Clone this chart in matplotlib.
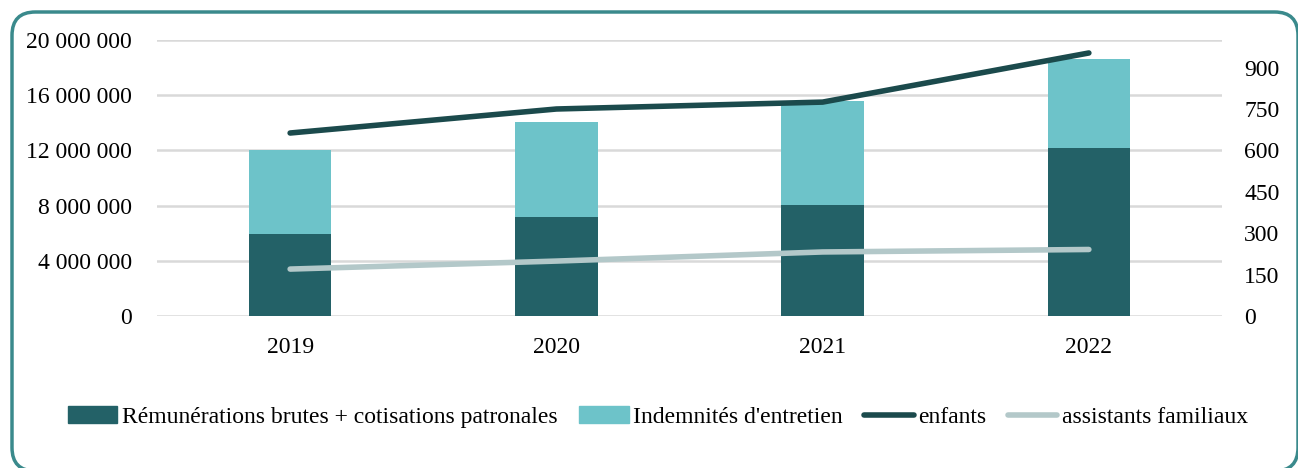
import numpy as np
import matplotlib.pyplot as plt
from matplotlib.patches import FancyBboxPatch
from matplotlib.lines import Line2D
from matplotlib.patches import Patch

plt.rcParams['font.family'] = ['Liberation Serif', 'DejaVu Serif']

years = ['2019', '2020', '2021', '2022']
remunerations = [5950000, 7150000, 8050000, 12150000]
indemnites = [6080000, 6900000, 7550000, 6500000]
enfants = [663, 750, 775, 953]
assistants = [170, 199, 232, 241]

c_dark = '#236167'
c_light = '#6dc3c9'
c_enf = '#1b4a4c'
c_ass = '#b3c8c9'

fig = plt.figure(figsize=(12.98, 4.68), dpi=100)
ax = fig.add_axes([157/1298, 1 - 316/468, (1222-157)/1298, 276/468])

x = np.arange(len(years))
ax.bar(x, remunerations, width=0.31, color=c_dark, zorder=2)
ax.bar(x, indemnites, width=0.31, bottom=remunerations, color=c_light, zorder=2)
ax.set_ylim(0, 20000000)
ax.set_xlim(-0.5, 3.5)
ax.set_yticks(np.arange(0, 20000001, 4000000))
ax.set_yticklabels([f'{v:,}'.replace(',', ' ') for v in range(0, 20000001, 4000000)])
ax.set_xticks(x)
ax.set_xticklabels(years)
ax.grid(axis='y', color='#d9d9d9', linewidth=1.8, zorder=0)
ax.tick_params(length=0, labelsize=17, pad=18)
ax.tick_params(axis='x', pad=15)
for s in ax.spines.values():
    s.set_visible(False)

ax2 = ax.twinx()
ax2.plot(x, enfants, color=c_enf, linewidth=4, solid_capstyle='round', zorder=3)
ax2.plot(x, assistants, color=c_ass, linewidth=4, solid_capstyle='round', zorder=3)
ax2.set_ylim(0, 1000)
ax2.set_yticks(np.arange(0, 901, 150))
ax2.tick_params(length=0, labelsize=17, pad=16)
for s in ax2.spines.values():
    s.set_visible(False)

handles = [Patch(color=c_dark), Patch(color=c_light),
           Line2D([], [], color=c_enf, linewidth=4, solid_capstyle='round'),
           Line2D([], [], color=c_ass, linewidth=4, solid_capstyle='round')]
labels = ['Rémunérations brutes + cotisations patronales', "Indemnités d'entretien",
          'enfants', 'assistants familiaux']
fig.legend(handles, labels, loc='center', bbox_to_anchor=(658/1298, 1 - 417/468),
           ncol=4, frameon=False, fontsize=17, handlelength=2.1, handletextpad=0.2,
           columnspacing=0.9)

# rounded frame around the chart (bottom edge falls just below the image)
frame = FancyBboxPatch((12/1298, 1 - 471/468), (1298-12)/1298, (471-12)/468,
                       boxstyle='round,pad=0,rounding_size=0.018',
                       transform=fig.transFigure, fill=False,
                       edgecolor='#3a8a8c', linewidth=2.5, mutation_aspect=1298/468)
fig.patches.append(frame)

fig.savefig('out.png', dpi=100)
